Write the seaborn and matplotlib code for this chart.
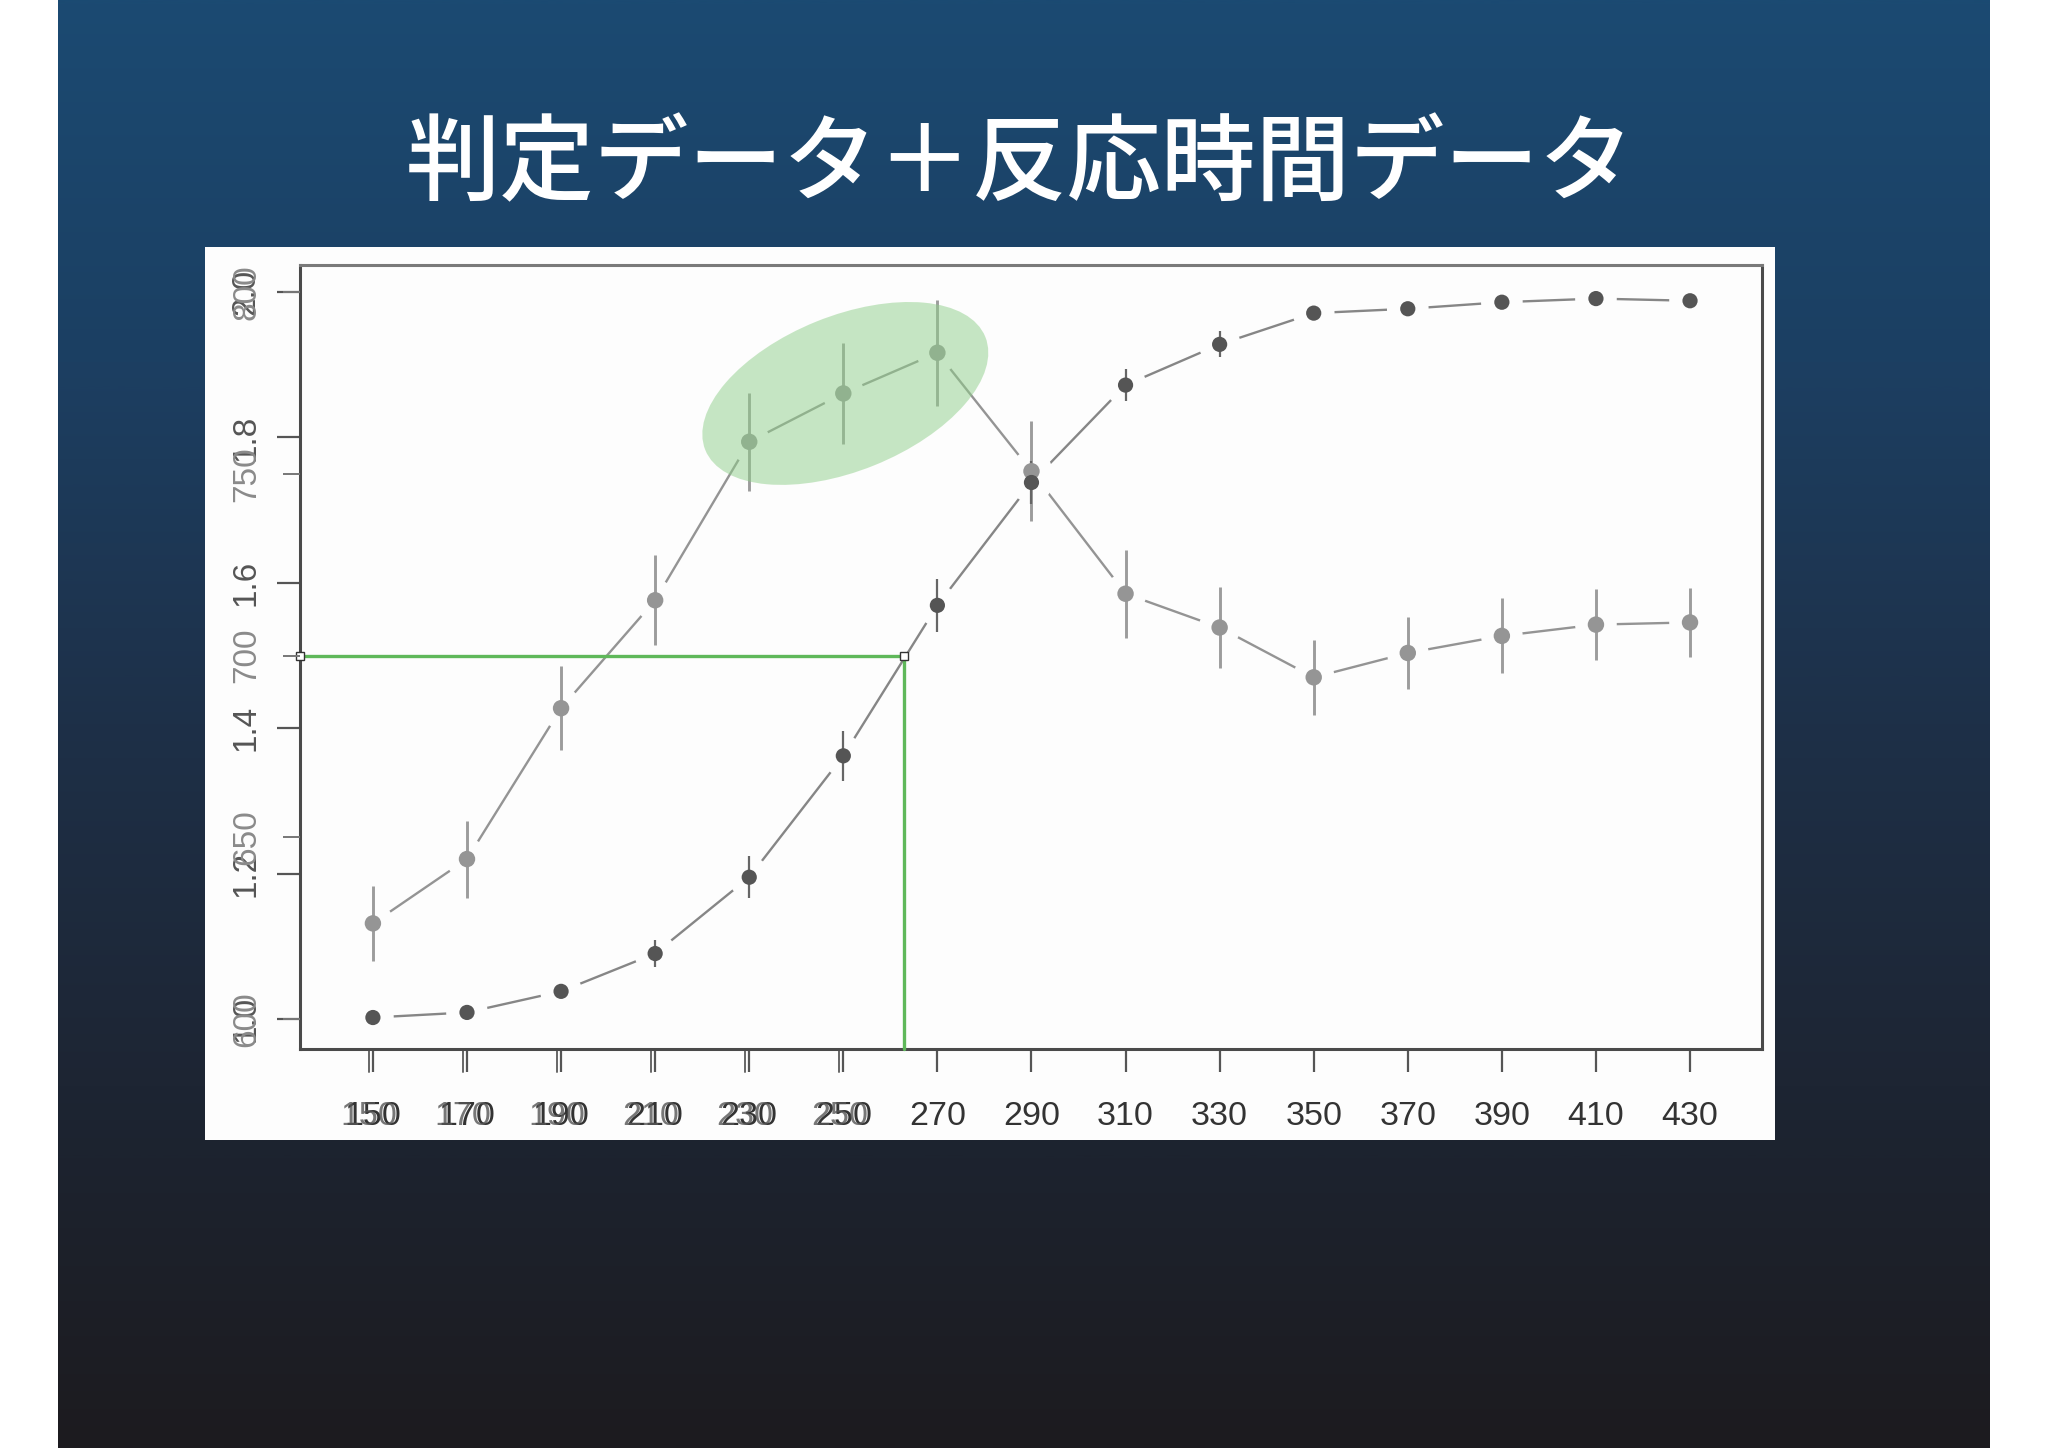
import numpy as np
import pandas as pd
import matplotlib
matplotlib.use("Agg")
import matplotlib.pyplot as plt
import matplotlib.transforms as mtransforms
from matplotlib.patches import Ellipse
from matplotlib.colors import LinearSegmentedColormap
import seaborn as sns

# --- data --------------------------------------------------------------------
stimulus = [150, 170, 190, 210, 230, 250, 270, 290, 310, 330, 350, 370, 390, 410, 430]

# judgement data (left inner axis, 1.0 - 2.0), dark points
judgement = [1.002, 1.009, 1.038, 1.090, 1.195, 1.362, 1.569, 1.738, 1.872, 1.928,
             1.971, 1.977, 1.986, 1.991, 1.988]
judgement_err = [0.004, 0.005, 0.008, 0.019, 0.029, 0.034, 0.036, 0.030, 0.022, 0.018,
                 0.006, 0.005, 0.005, 0.005, 0.005]

# reaction time data (ms, 600 - 800), light points
rt_ms = [626.3, 644.0, 685.5, 715.2, 758.8, 772.1, 783.3, 750.7, 717.0, 707.7,
         694.0, 700.7, 705.4, 708.5, 709.1]
rt_err = [10.4, 10.6, 11.5, 12.4, 13.5, 13.8, 14.6, 13.8, 12.1, 11.2,
          10.3, 10.0, 10.3, 9.7, 9.5]

judge_ticks = [1.0, 1.2, 1.4, 1.6, 1.8, 2.0]
rt_ticks = [600, 650, 700, 750, 800]
ghost_ticks = [150, 170, 190, 210, 230, 250]

criterion_judge = 1.5
criterion_x = 262.9
highlight_idx = 5

title = "判定データ＋反応時間データ"

df = pd.DataFrame({"stimulus": stimulus, "judgement": judgement, "judgement_err": judgement_err,
                   "rt": rt_ms, "rt_err": rt_err})

# --- styling -----------------------------------------------------------------
sns.set_theme(style="white")
plt.rcParams['font.family'] = ['Liberation Sans', 'Noto Sans CJK JP', 'DejaVu Sans']

W, H = 2048, 1448
fig = plt.figure(figsize=(W / 100, H / 100), dpi=100)
fig.patch.set_facecolor('white')

# slide background gradient
bg = fig.add_axes([58 / W, 0, (1990 - 58) / W, 1])
slide_cmap = LinearSegmentedColormap.from_list(
    "slide", [(0.0, "#1b4a72"), (0.25, "#1c3f62"), (0.5, "#1e3048"),
              (0.75, "#1d2533"), (1.0, "#1c1b1f")])
bg.imshow(slide_cmap(np.linspace(0, 1, 512))[:, None, :], aspect='auto', extent=[0, 1, 0, 1])
bg.set_axis_off()

bg.text(1020 / W, 1 - 166 / H, title, transform=fig.transFigure, color='white', fontsize=68,
        fontweight='medium', ha='center', va='center', family=['Noto Sans CJK JP', 'DejaVu Sans'])

# white panel behind the pasted R plot
panel = fig.add_axes([205 / W, 1 - 1140 / H, (1775 - 205) / W, (1140 - 247) / H])
panel.set_facecolor('#fdfdfd')
panel.set_xticks([])
panel.set_yticks([])
for side in panel.spines:
    panel.spines[side].set_visible(False)

ax = fig.add_axes([300 / W, 1 - 1049 / H, (1762 - 300) / W, (1049 - 265) / H])
ax.set_facecolor('#fdfdfd')
ax.set_xlim(134.5, 445.3)
ax.set_ylim(0.9587, 2.0372)

# reaction time is drawn on the same panel through its own linear scale
rt_to_judge = mtransforms.Affine2D().scale(1, 1 / 200).translate(0, -2.0) + ax.transData

halo_bg = '#fdfdfd'

sns.lineplot(data=df, x='stimulus', y='judgement', ax=ax, sort=False, estimator=None,
             color='#868686', lw=1.7, zorder=2)
sns.lineplot(data=df, x='stimulus', y='rt', ax=ax, sort=False, estimator=None,
             color='#949494', lw=1.7, zorder=2, transform=rt_to_judge)

# R type="b" gaps around points
sns.scatterplot(data=df, x='stimulus', y='judgement', ax=ax, s=900, color=halo_bg,
                edgecolor='none', zorder=3)
sns.scatterplot(data=df, x='stimulus', y='rt', ax=ax, s=900, color=halo_bg,
                edgecolor='none', zorder=3, transform=rt_to_judge)

ax.errorbar(df['stimulus'], df['rt'], yerr=df['rt_err'], fmt='none', ecolor='#9c9c9c',
            elinewidth=2.1, capsize=0, zorder=4, transform=rt_to_judge)
ax.errorbar(df['stimulus'], df['judgement'], yerr=df['judgement_err'], fmt='none',
            ecolor='#666666', elinewidth=1.6, capsize=0, zorder=4)

sns.scatterplot(data=df, x='stimulus', y='rt', ax=ax, s=140, color='#959595',
                edgecolor='none', zorder=5, transform=rt_to_judge)
sns.scatterplot(data=df, x='stimulus', y='judgement', ax=ax, s=120, color='#555555',
                edgecolor='none', zorder=6)

ax.set_xlim(134.5, 445.3)
ax.set_ylim(0.9587, 2.0372)
ax.set_xlabel('')
ax.set_ylabel('')

# green criterion lines
x0 = ax.get_xlim()[0]
y0 = ax.get_ylim()[0]
ax.plot([x0, criterion_x], [criterion_judge, criterion_judge], color='#5fb85a', lw=2.4,
        zorder=7, clip_on=False)
ax.plot([criterion_x, criterion_x], [y0, criterion_judge], color='#5fb85a', lw=2.4,
        zorder=7, clip_on=False)
ax.plot([x0, criterion_x], [criterion_judge, criterion_judge], 's', ms=6, mfc='white',
        mec='#333333', mew=1.0, zorder=8, clip_on=False)

# highlight around the peak of the reaction times
hl_center = mtransforms.ScaledTranslation(stimulus[highlight_idx], rt_ms[highlight_idx], rt_to_judge)
ax.add_patch(Ellipse((0.02, 0.0), 3.02, 1.55, angle=22, facecolor='#8fcf8a', alpha=0.5,
                     edgecolor='none', zorder=9, transform=fig.dpi_scale_trans + hl_center))

# axes frame and ticks, R style
for side in ['left', 'right', 'top', 'bottom']:
    ax.spines[side].set_visible(True)
    ax.spines[side].set_color('#4a4a4a')
    ax.spines[side].set_linewidth(2.2)
ax.spines['top'].set_color('#7a7a7a')

ax.set_xticks(stimulus)
ax.set_xticklabels([str(v) for v in stimulus])
ax.tick_params(axis='x', direction='out', length=16.5, width=1.6, color='#555555', pad=21,
               labelsize=24.5, labelcolor='#333333', bottom=True)
ax.set_yticks(judge_ticks)
ax.set_yticklabels([f"{v:.1f}" for v in judge_ticks], rotation=90, va='center')
ax.tick_params(axis='y', direction='out', length=16.5, width=1.6, color='#555555', pad=11,
               labelsize=24, labelcolor='#555555', left=True)

ax2 = ax.twinx()
lo, hi = ax.get_ylim()
ax2.set_ylim((lo + 2.0) * 200, (hi + 2.0) * 200)
ax2.yaxis.set_ticks_position('left')
ax2.set_yticks(rt_ticks)
ax2.set_yticklabels([str(v) for v in rt_ticks], rotation=90, va='center')
ax2.tick_params(axis='y', direction='out', length=12.5, width=1.4, color='#777777', pad=14.5,
                labelsize=24, labelcolor='#8a8a8a', left=True, right=False,
                labelleft=True, labelright=False)
for side in ['left', 'right', 'top', 'bottom']:
    ax2.spines[side].set_visible(False)

# second, slightly shifted copy of the lower x ticks (two overlaid plots)
ghost = mtransforms.offset_copy(ax.get_xaxis_transform(), fig=fig, x=-4, y=0, units='dots')
for v in ghost_ticks:
    ax.plot([v, v], [0, -23 / 784], color='#666666', lw=1.4, transform=ghost, clip_on=False)
    ax.text(v, -52 / 784, str(v), transform=ghost, ha='center', va='top', fontsize=24.5,
            color='#555555', alpha=0.8)

fig.savefig("out.png", dpi=100, facecolor=fig.get_facecolor())
